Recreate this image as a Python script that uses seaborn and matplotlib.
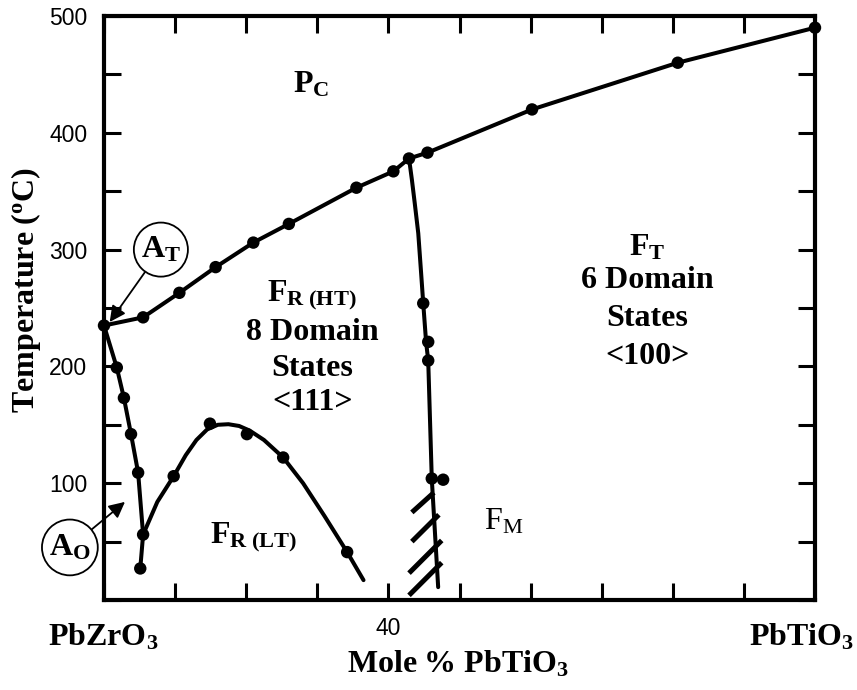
import matplotlib
matplotlib.use("Agg")
import matplotlib.pyplot as plt
import seaborn as sns
import numpy as np
import pandas as pd

# ---------------- data ----------------
# Curie line (cubic paraelectric boundary)
curie_x = [0, 5.5, 10.6, 15.7, 21.0, 26.0, 35.5, 40.7, 42.9, 45.5, 60.2, 80.7, 100]
curie_y = [235, 242, 263, 285, 306, 322, 353, 367, 378, 383, 420, 460, 490]

# antiferroelectric orthorhombic boundary (left steep line)
ao_line_x = [0, 1.8, 2.8, 3.8, 4.8, 5.5, 5.1]
ao_line_y = [235, 199, 173, 142, 109, 56, 27]
ao_pts_x = [1.8, 2.8, 3.8, 4.8, 5.5, 5.1]
ao_pts_y = [199, 173, 142, 109, 56, 27]

# F_R(HT) / F_R(LT) boundary
lt_line_x = [5.5, 7.5, 9.8, 11.5, 13.0, 14.5, 16.0, 17.5, 19.0, 20.5, 22.5, 25.2, 28.0, 31.0, 34.2, 36.5]
lt_line_y = [56, 84, 106, 124, 137, 146, 150, 150.5, 149, 145, 137, 122, 100, 72, 41, 17]
lt_pts_x = [9.8, 14.9, 20.1, 25.2, 34.2]
lt_pts_y = [106, 151, 142, 122, 41]

# morphotropic phase boundary
mpb_line_x = [42.9, 43.3, 43.7, 44.2, 44.6, 44.9, 45.3, 45.6, 46.1, 47.0]
mpb_line_y = [378, 360, 340, 314, 280, 254, 221, 205, 104, 11]
mpb_pts_x = [44.9, 45.6, 45.6, 46.1, 47.7]
mpb_pts_y = [254, 221, 205, 104, 103]

# hatch marks at the bottom of the MPB
hatch_x0 = [43.3, 43.3, 42.9, 42.9]
hatch_y0 = [75, 50, 23, 4]
hatch_x1 = [46.4, 47.1, 47.5, 47.5]
hatch_y1 = [92, 73, 51, 32]

x_ticks = list(range(0, 101, 10))
y_ticks = list(range(0, 501, 50))
y_ticklabels = ["" if (v % 100 or v == 0) else str(v) for v in y_ticks]
x_ticklabels = ["40" if v == 40 else "" for v in x_ticks]

# ---------------- style ----------------
sns.set_theme(style="ticks")
plt.rcParams["font.family"] = ["Liberation Sans", "DejaVu Sans"]
plt.rcParams["text.color"] = "black"
plt.rcParams["axes.labelcolor"] = "black"
plt.rcParams["xtick.color"] = "black"
plt.rcParams["ytick.color"] = "black"
plt.rcParams["mathtext.fontset"] = "custom"
plt.rcParams["mathtext.rm"] = "Liberation Serif"
plt.rcParams["mathtext.it"] = "Liberation Serif:italic"
plt.rcParams["mathtext.bf"] = "Liberation Serif:bold"

fig = plt.figure(figsize=(8.57, 6.9), dpi=100)
ax = fig.add_axes([104 / 857, 1 - 600 / 690, 711 / 857, 584 / 690])

LW = 2.9
def line(xs, ys):
    df = pd.DataFrame({"x": xs, "y": ys})
    sns.lineplot(data=df, x="x", y="y", sort=False, estimator=None,
                 color="black", lw=LW, ax=ax)

def pts(xs, ys):
    df = pd.DataFrame({"x": xs, "y": ys})
    sns.scatterplot(data=df, x="x", y="y", color="black", s=80,
                    edgecolor="none", ax=ax, zorder=5, clip_on=False)

line(curie_x, curie_y)
pts(curie_x, curie_y)
line(ao_line_x, ao_line_y)
pts(ao_pts_x, ao_pts_y)
line(lt_line_x, lt_line_y)
pts(lt_pts_x, lt_pts_y)
line(mpb_line_x, mpb_line_y)
pts(mpb_pts_x, mpb_pts_y)
for a, b, c, d in zip(hatch_x0, hatch_y0, hatch_x1, hatch_y1):
    ax.plot([a, c], [b, d], color="black", lw=3.6, solid_capstyle="butt")

ax.set_xlim(0, 100)
ax.set_ylim(0, 500)
ax.set_xticks(x_ticks)
ax.set_xticklabels(x_ticklabels)
ax.set_yticks(y_ticks)
ax.set_yticklabels(y_ticklabels)
ax.tick_params(direction="in", length=12, width=2.2, top=True, right=True,
               labelsize=16.5, pad=12, colors="black")
for s in ax.spines.values():
    s.set_linewidth(3)
    s.set_color("black")
ax.set_xlabel("")
ax.set_ylabel("")

# ---------------- text ----------------
big = 23
ax.text(29.1, 441, r"$\mathbf{P_C}$", ha="center", va="center", fontsize=big)
blk = dict(ha="center", va="center", fontsize=big, family="Liberation Serif", fontweight="bold")
ax.text(29.3, (600 - 295) / 1.168, r"$\mathbf{F_{R\ (HT)}}$", ha="center", va="center", fontsize=big)
ax.text(29.3, (600 - 332) / 1.168, "8 Domain", **blk)
ax.text(29.3, (600 - 368) / 1.168, "States", **blk)
ax.text(29.3, (600 - 403) / 1.168, "<111>", **blk)

ax.text(76.4, (600 - 247) / 1.168, r"$\mathbf{F_T}$", ha="center", va="center", fontsize=big)
ax.text(76.4, (600 - 281) / 1.168, "6 Domain", **blk)
ax.text(76.4, (600 - 318) / 1.168, "States", **blk)
ax.text(76.4, (600 - 357) / 1.168, "<100>", **blk)

ax.text(21.0, (600 - 537) / 1.168, r"$\mathbf{F_{R\ (LT)}}$", ha="center", va="center", fontsize=big)
ax.text(56.2, (600 - 521) / 1.168, r"$\mathrm{F_M}$", ha="center", va="center", fontsize=big)

circ = dict(boxstyle="circle,pad=0.22", fc="white", ec="black", lw=1.3)
arr = dict(arrowstyle="-|>", lw=1.3, color="black", mutation_scale=24,
           shrinkA=0, shrinkB=0)
ax.annotate(r"$\mathbf{A_T}$", xy=(0.8, 238), xytext=(8.0, 300),
            ha="center", va="center", fontsize=big, bbox=circ,
            arrowprops=arr, annotation_clip=False)
ax.annotate(r"$\mathbf{A_O}$", xy=(2.95, 84), xytext=(-4.8, 45),
            ha="center", va="center", fontsize=big, bbox=circ,
            arrowprops=arr, annotation_clip=False)

fig.text(103 / 857, 1 - 637 / 690, r"$\mathbf{PbZrO_3}$", ha="center", va="center", fontsize=big)
fig.text(802 / 857, 1 - 637 / 690, r"$\mathbf{PbTiO_3}$", ha="center", va="center", fontsize=big)
fig.text(458 / 857, 1 - 664 / 690, r"$\mathbf{Mole\ \%\ PbTiO_3}$", ha="center", va="center", fontsize=big)
fig.text(26 / 857, 1 - 290 / 690, r"$\mathbf{Temperature\ (^oC)}$", ha="center", va="center",
         fontsize=big, rotation=90)

fig.savefig("out.png", dpi=100)
